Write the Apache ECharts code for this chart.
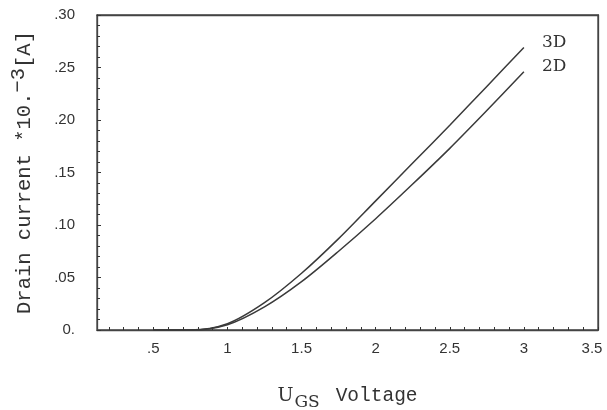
<!DOCTYPE html>
<html>
<head>
<meta charset="utf-8">
<script src="https://cdn.jsdelivr.net/npm/echarts@6/dist/echarts.min.js"></script>
<style>html,body{margin:0;padding:0;background:#fff;overflow:hidden}#c{width:607px;height:410px}</style>
</head>
<body>
<div id="c"></div>
<script>
// Gate voltage U_GS [V]
const voltages = [0.50, 0.75, 1.00, 1.25, 1.50, 1.75, 2.00, 2.25, 2.50, 2.75, 3.00];
// Drain current *10^-3 [A]
const current3D = [0.000, 0.000, 0.006, 0.026, 0.054, 0.087, 0.123, 0.159, 0.195, 0.232, 0.269];
const current2D = [0.000, 0.000, 0.005, 0.022, 0.046, 0.075, 0.106, 0.139, 0.173, 0.209, 0.246];
const seriesNames = ['3D', '2D'];
const xTickValues = [0.5, 1, 1.5, 2, 2.5, 3, 3.5];
const xTickLabels = ['.5', '1', '1.5', '2', '2.5', '3', '3.5'];
const yTickLabels = ['0.', '.05', '.10', '.15', '.20', '.25', '.30'];

const xMinorTicks = [];
for (let i = 2; i <= 35; i++) xMinorTicks.push(i / 10);

function pairs(xs, ys) { return xs.map((x, i) => [x, ys[i]]); }

const chart = echarts.init(document.getElementById('c'), null, {renderer: 'canvas'});
const mono = 'Liberation Mono';
const lineColor = '#3a3a3a';
const frameColor = '#444';
chart.setOption({
  animation: false,
  backgroundColor: '#fff',
  grid: {left: 97, right: 9, top: 15, bottom: 80, show: true, borderColor: frameColor, borderWidth: 1.3,
    containLabel: false, outerBoundsMode: 'none'},
  xAxis: [{
    type: 'value', min: 0.12, max: 3.5,
    name: '{u|U}{s|GS}{v|Voltage}', nameLocation: 'middle', nameGap: 56,
    nameTextStyle: {rich: {
      u: {fontFamily: 'DejaVu Serif', fontSize: 19, color: '#333', verticalAlign: 'bottom', padding: [0, 0, 5, 0]},
      s: {fontFamily: 'DejaVu Serif', fontSize: 17, color: '#333', verticalAlign: 'bottom', padding: [0, 0, 0, 1]},
      v: {fontFamily: mono, fontSize: 19.5, color: '#333', verticalAlign: 'bottom', padding: [0, 0, 5, 16]}
    }},
    axisLine: {show: true, onZero: false, lineStyle: {color: frameColor, width: 1.3}},
    axisTick: {show: true, inside: true, length: 3, customValues: xMinorTicks, lineStyle: {color: '#333'}},
    axisLabel: {customValues: xTickValues, margin: 11, fontFamily: 'Liberation Sans', fontSize: 15, color: '#333',
      rich: {m: {fontFamily: 'Liberation Sans', fontSize: 15, color: '#333', padding: [0, 12, 0, 0]}},
      formatter: v => {
        const i = xTickValues.findIndex(t => Math.abs(t - v) < 1e-6);
        if (i < 0) return '';
        return i === xTickValues.length - 1 ? '{m|' + xTickLabels[i] + '}' : xTickLabels[i];
      }},
    splitLine: {show: false}
  }, {
    type: 'value', min: 0.12, max: 3.5, position: 'top',
    axisLine: {show: true, onZero: false, lineStyle: {color: frameColor, width: 1.3}},
    axisTick: {show: false}, axisLabel: {show: false}, splitLine: {show: false}
  }],
  yAxis: [{
    type: 'value', min: 0, max: 0.30, interval: 0.05,
    name: '{a|Drain current *10.}{b|−3}{a|[A]}', nameLocation: 'middle', nameGap: 56, nameRotate: 90,
    nameTextStyle: {rich: {
      a: {fontFamily: mono, fontSize: 20.5, color: '#333'},
      b: {fontFamily: mono, fontSize: 20.5, color: '#333', padding: [0, 0, 12, 0]}
    }},
    axisLine: {show: true, onZero: false, lineStyle: {color: frameColor, width: 1.3}},
    axisTick: {show: true, inside: true, length: 4, lineStyle: {color: '#333'}},
    minorTick: {show: true, splitNumber: 5, length: 3, lineStyle: {color: '#333'}},
    axisLabel: {margin: 22, fontFamily: 'Liberation Sans', fontSize: 15, color: '#333',
      formatter: v => yTickLabels[Math.round(v / 0.05)]},
    splitLine: {show: false}
  }, {
    type: 'value', min: 0, max: 0.30, interval: 0.05, position: 'right',
    axisLine: {show: true, onZero: false, lineStyle: {color: frameColor, width: 1.3}},
    axisTick: {show: false}, axisLabel: {show: false}, splitLine: {show: false}
  }],
  series: [
    {name: seriesNames[0], type: 'line', smooth: 0.3, showSymbol: false, data: pairs(voltages, current3D),
      lineStyle: {color: lineColor, width: 1.5},
      endLabel: {show: true, formatter: seriesNames[0], offset: [10, -5], fontFamily: 'DejaVu Serif', fontSize: 17, color: '#333'}},
    {name: seriesNames[1], type: 'line', smooth: 0.3, showSymbol: false, data: pairs(voltages, current2D),
      lineStyle: {color: lineColor, width: 1.5},
      endLabel: {show: true, formatter: seriesNames[1], offset: [10, -5], fontFamily: 'DejaVu Serif', fontSize: 17, color: '#333'}}
  ]
});
</script>
</body>
</html>
